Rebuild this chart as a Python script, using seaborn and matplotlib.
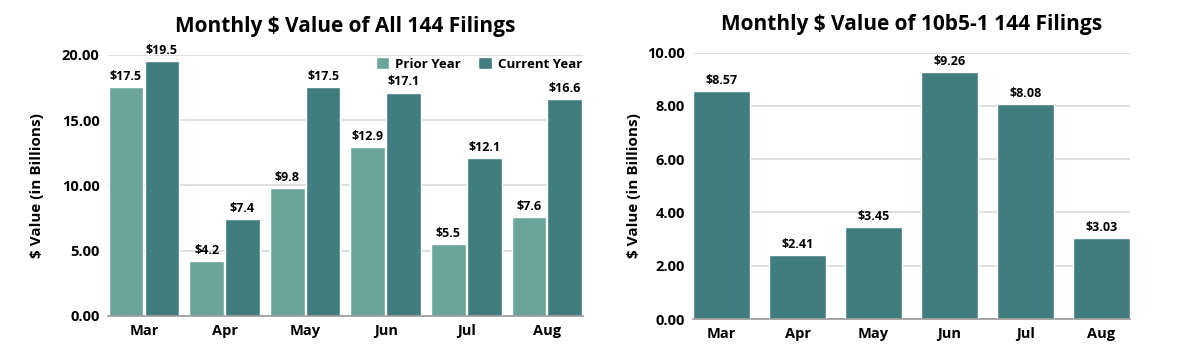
"""
Monthly $ value of Form 144 filings: all filings vs 10b5-1 filings.

Output:
  out.png
"""

import numpy as np
import pandas as pd
import matplotlib
matplotlib.use("Agg")
import matplotlib.pyplot as plt
import seaborn as sns


MONTHS = ["Mar", "Apr", "May", "Jun", "Jul", "Aug"]
PRIOR_YEAR = [17.5, 4.2, 9.8, 12.9, 5.5, 7.6]
CURRENT_YEAR = [19.5, 7.4, 17.5, 17.1, 12.1, 16.6]
PLAN_10B51 = [8.57, 2.41, 3.45, 9.26, 8.08, 3.03]

PRIOR_COLOR = "#6ba599"
CURRENT_COLOR = "#417c7e"
GRID_COLOR = "#d9d9d9"


def _style():
    sns.set_theme(style="white")
    plt.rcParams.update({
        "font.family": ["Open Sans", "DejaVu Sans"],
        "font.weight": "bold",
        "axes.labelweight": "bold",
        "axes.titleweight": "bold",
        "text.color": "black",
        "axes.labelcolor": "black",
        "xtick.color": "black",
        "ytick.color": "black",
    })


def _finish_axes(ax, ymax, step, ylabel, labelpad):
    ax.set_ylim(0, ymax)
    ax.set_yticks(np.arange(0, ymax + step / 2, step))
    ax.yaxis.set_major_formatter(matplotlib.ticker.FormatStrFormatter("%.2f"))
    ax.grid(axis="y", color=GRID_COLOR, linewidth=1.2)
    ax.set_axisbelow(True)
    for side in ["left", "right", "top"]:
        ax.spines[side].set_visible(False)
    ax.spines["bottom"].set_color("#9a9a9a")
    ax.spines["bottom"].set_linewidth(1.2)
    ax.tick_params(axis="both", length=0, labelsize=10.5, pad=6)
    ax.set_xlabel("")
    ax.set_ylabel(ylabel, fontsize=11, labelpad=labelpad)


def plot_all_filings(ax):
    df = pd.DataFrame({
        "month": MONTHS * 2,
        "value": PRIOR_YEAR + CURRENT_YEAR,
        "period": ["Prior Year"] * len(MONTHS) + ["Current Year"] * len(MONTHS),
    })
    sns.barplot(data=df, x="month", y="value", hue="period",
                palette=[PRIOR_COLOR, CURRENT_COLOR], width=0.89, gap=0.03,
                saturation=1, ax=ax)
    for container in ax.containers:
        ax.bar_label(container, labels=[f"${v.get_height():.1f}" for v in container],
                     fontsize=9, padding=3, fontweight="bold")
    ax.set_xlim(-0.447, 5.447)
    _finish_axes(ax, 20, 5, "$ Value (in Billions)", 13)
    ax.set_title("Monthly $ Value of All 144 Filings", fontsize=15, pad=16)
    ax.legend(title="", loc="upper right", bbox_to_anchor=(1.01, 1.01), ncol=2,
              frameon=False, fontsize=9.5, handlelength=1.0, handleheight=1.0,
              handletextpad=0.5, columnspacing=1.3, borderaxespad=0)


def plot_10b51_filings(ax):
    df = pd.DataFrame({"month": MONTHS, "value": PLAN_10B51})
    sns.barplot(data=df, x="month", y="value", color=CURRENT_COLOR,
                width=0.756, saturation=1, ax=ax)
    ax.bar_label(ax.containers[0], labels=[f"${v:.2f}" for v in PLAN_10B51],
                 fontsize=9, padding=3, fontweight="bold")
    ax.set_xlim(-0.378, 5.378)
    _finish_axes(ax, 10, 2, "$ Value (in Billions)", 4)
    ax.set_title("Monthly $ Value of 10b5-1 144 Filings", fontsize=15, pad=16)


def main():
    _style()
    fig = plt.figure(figsize=(12.01, 3.63), dpi=100)
    ax_left = fig.add_axes([0.0899, 0.1295, 0.3955, 0.7198])
    ax_right = fig.add_axes([0.577, 0.1212, 0.3639, 0.7336])

    plot_all_filings(ax_left)
    plot_10b51_filings(ax_right)

    fig.savefig("out.png", dpi=100)
    plt.close(fig)


if __name__ == "__main__":
    main()
